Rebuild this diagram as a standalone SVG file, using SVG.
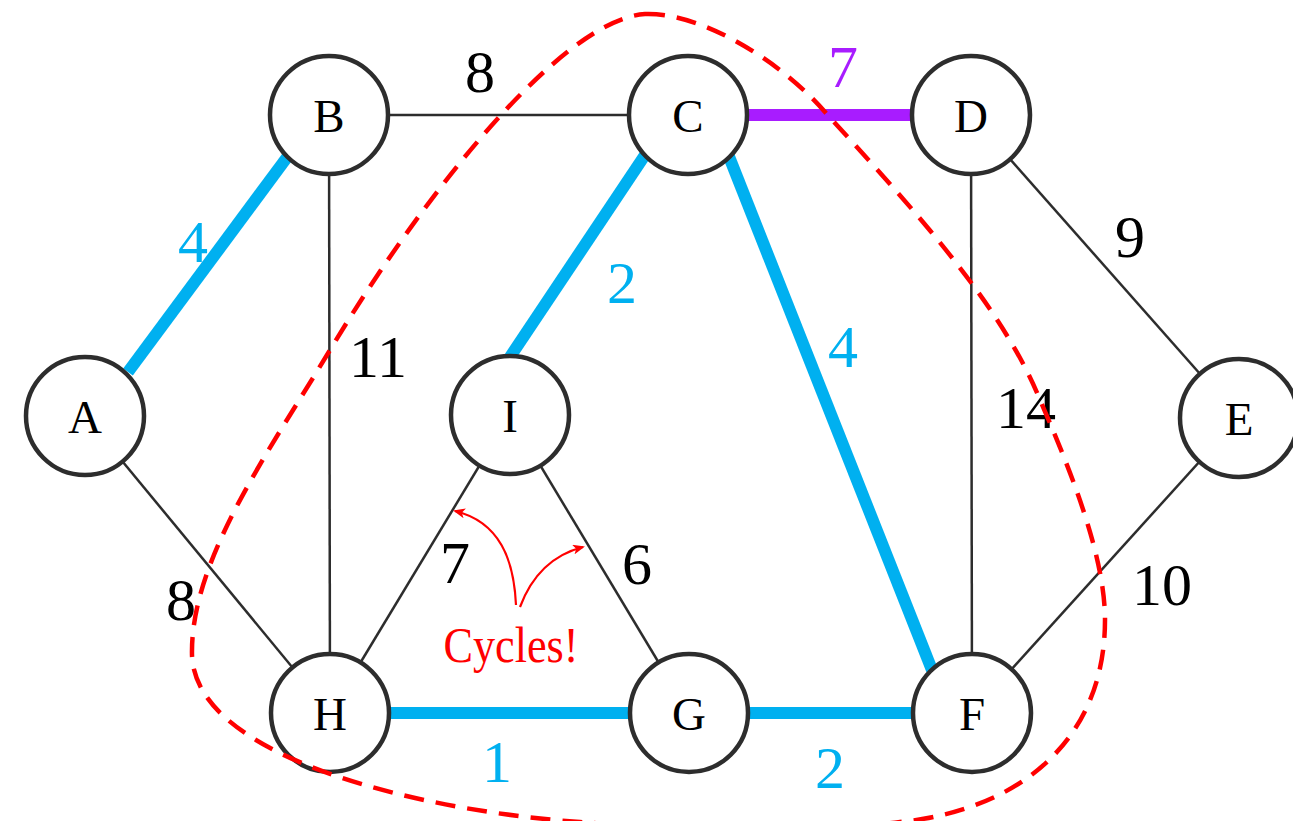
<svg xmlns="http://www.w3.org/2000/svg" width="1293" height="821" viewBox="0 0 1293 821">
<style>
.thin{stroke:#2d2d2d;stroke-width:2.5;fill:none}
.mst{stroke:#00b0f0;stroke-width:12;fill:none}
.pur{stroke:#a81cff;stroke-width:12;fill:none}
.node{fill:#fff;stroke:#2d2d2d;stroke-width:4.5}
.nl{font-family:"Liberation Serif",serif;font-size:47px;text-anchor:middle;fill:#000}
.w{font-family:"Liberation Serif",serif;font-size:60px;text-anchor:middle;fill:#000}
.wb{fill:#00b0f0}
.wp{fill:#a81cff}
.cyc{font-family:"Liberation Serif",serif;font-size:50px;text-anchor:middle;fill:#ff0000}
.dash{stroke:#ff0000;stroke-width:4.5;fill:none;stroke-dasharray:20 12}
.arr{stroke:#ff0000;stroke-width:2.2;fill:none}
</style>
<defs>
<marker id="ah" viewBox="0 0 12 10" refX="10" refY="5" markerWidth="12" markerHeight="10" markerUnits="userSpaceOnUse" orient="auto">
<path d="M0,0 L12,5 L0,10 L3,5 Z" fill="#ff0000"/>
</marker>
</defs>
<g id="connectors">
<line class="thin" x1="329" y1="115" x2="688" y2="115"/>
<line class="thin" x1="329" y1="115" x2="330" y2="713"/>
<line class="thin" x1="85" y1="416" x2="330" y2="713"/>
<line class="thin" x1="330" y1="713" x2="510" y2="415"/>
<line class="thin" x1="510" y1="415" x2="689" y2="713"/>
<line class="thin" x1="971" y1="115" x2="972" y2="713"/>
<line class="thin" x1="971" y1="115" x2="1239" y2="418"/>
<line class="thin" x1="1239" y1="418" x2="972" y2="713"/>
<line class="mst" x1="128" y1="372" x2="288" y2="156"/>
<line class="mst" x1="645" y1="155" x2="510" y2="357"/>
<line class="mst" x1="728" y1="154" x2="932" y2="670"/>
<line class="mst" x1="388" y1="713" x2="631" y2="713"/>
<line class="mst" x1="747" y1="713" x2="914" y2="713"/>
<line class="pur" x1="746" y1="115" x2="913" y2="115"/>
</g>
<g id="nodes">
<g id="node-A"><circle class="node" cx="85" cy="416" r="59"/><text class="nl" x="85" y="433">A</text></g>
<g id="node-B"><circle class="node" cx="329" cy="115" r="59"/><text class="nl" x="329" y="132">B</text></g>
<g id="node-C"><circle class="node" cx="688" cy="115" r="59"/><text class="nl" x="688" y="132">C</text></g>
<g id="node-D"><circle class="node" cx="971" cy="115" r="59"/><text class="nl" x="971" y="132">D</text></g>
<g id="node-E"><circle class="node" cx="1239" cy="418" r="59"/><text class="nl" x="1239" y="435">E</text></g>
<g id="node-I"><circle class="node" cx="510" cy="415" r="59"/><text class="nl" x="510" y="432">I</text></g>
<g id="node-H"><circle class="node" cx="330" cy="713" r="59"/><text class="nl" x="330" y="730">H</text></g>
<g id="node-G"><circle class="node" cx="689" cy="713" r="59"/><text class="nl" x="689" y="730">G</text></g>
<g id="node-F"><circle class="node" cx="972" cy="713" r="59"/><text class="nl" x="972" y="730">F</text></g>
</g>
<g id="weights">
<text class="w wb" x="193" y="262">4</text>
<text class="w" x="480" y="92">8</text>
<text class="w wp" x="843" y="87">7</text>
<text class="w" x="1130" y="257">9</text>
<text class="w wb" x="622" y="303">2</text>
<text class="w" x="378" y="377">11</text>
<text class="w wb" x="843" y="367">4</text>
<text class="w" x="1026" y="428">14</text>
<text class="w" x="455" y="583">7</text>
<text class="w" x="637" y="584">6</text>
<text class="w" x="181" y="620">8</text>
<text class="w" x="1162" y="605">10</text>
<text class="w wb" x="497" y="782">1</text>
<text class="w wb" x="830" y="788">2</text>
</g>
<g id="cycle-annotation">
<path class="dash" d="M645,14 C700,12 780,60 825,112 C900,195 1000,300 1040,400 C1075,480 1105,560 1105,620 C1105,740 1020,810 900,822 C800,835 680,830 580,822 C430,812 195,760 192,655 C190,560 270,450 330,350 C420,200 560,20 645,14 Z"/>
<path class="arr" marker-end="url(#ah)" d="M516,605 C514,560 500,522 455,511"/>
<path class="arr" marker-end="url(#ah)" d="M520,607 C532,575 552,555 583,547"/>
<text class="cyc" x="511" y="662" textLength="135" lengthAdjust="spacingAndGlyphs">Cycles!</text>
</g>
</svg>
